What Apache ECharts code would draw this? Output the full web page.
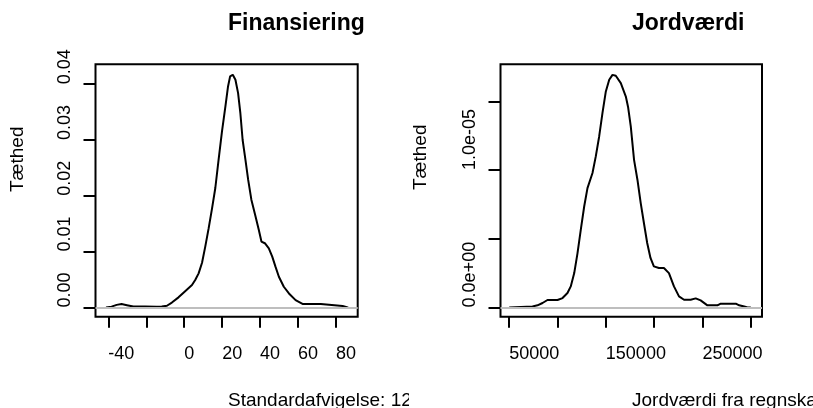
<!DOCTYPE html>
<html>
<head>
<meta charset="utf-8">
<script src="https://cdn.jsdelivr.net/npm/echarts@6/dist/echarts.min.js"></script>
<style>
html,body{margin:0;padding:0;background:#fff;}
#chart{width:813px;height:408px;}
</style>
</head>
<body>
<div id="chart"></div>
<script>
// ---- Data ----
var finTitle = 'Finansiering';
var jordTitle = 'Jordværdi';
var yName = 'Tæthed';
var finSub = 'Standardafvigelse: 12';
var jordSub = 'Jordværdi fra regnskab';

var finX = [-41.2,-40.9,-38.3,-35.6,-33.0,-30.2,-26.8,-20.6,-14.5,-11.8,-9.1,-6.5,-3.0,0.5,4.1,5.8,7.6,9.4,11.1,12.9,14.7,16.4,18.1,19.9,21.7,23.1,24.2,25.6,27.0,28.4,29.6,30.8,32.3,33.7,35.4,37.6,39.3,40.7,42.5,44.6,46.4,48.1,49.9,52.5,55.2,58.7,62.6,72.0,72.9,83.5,86.1,86.5];
var finY = [0,0,0.00014,0.00045,0.0006,0.0004,0.00015,0.00015,0.0001,0.00015,0.0003,0.00087,0.0018,0.0029,0.004,0.0049,0.0061,0.008,0.0109,0.0142,0.0178,0.0214,0.0264,0.0315,0.0360,0.0396,0.0414,0.0417,0.0408,0.0384,0.0348,0.0300,0.0264,0.0229,0.0193,0.0163,0.0139,0.0118,0.0115,0.0106,0.0091,0.0073,0.0055,0.0037,0.0025,0.0013,0.0006,0.0006,0.00027,0.00027,0,0];

var jordX = [50000,74100,79300,84500,89600,100000,105200,110300,113700,117300,120700,124100,127600,131000,136200,139600,143100,146500,150000,153500,156900,160300,165500,170700,173000,175800,179200,182700,186100,189400,192800,196200,199700,204900,210100,215300,220500,225700,230900,237800,243000,248100,255100,265500,268900,284500,288000,293200,296600,300000];
var jordY = [0,0.07e-6,0.15e-6,0.32e-6,0.54e-6,0.54e-6,0.68e-6,1.05e-6,1.53e-6,2.5e-6,3.96e-6,5.66e-6,7.35e-6,8.69e-6,9.79e-6,11.0e-6,12.45e-6,14.15e-6,15.73e-6,16.58e-6,16.94e-6,16.87e-6,16.34e-6,15.36e-6,14.6e-6,13.18e-6,10.75e-6,9.3e-6,7.6e-6,6.15e-6,4.69e-6,3.6e-6,2.99e-6,2.87e-6,2.87e-6,2.5e-6,1.53e-6,0.8e-6,0.56e-6,0.56e-6,0.66e-6,0.51e-6,0.15e-6,0.15e-6,0.27e-6,0.27e-6,0.15e-6,0.07e-6,0,0];

// Tick positions and tick labels
var finXTicks = [-40,-20,0,20,40,60,80];
var finXLabels = [-40,0,20,40,60,80];
var finYTicks = [0,0.01,0.02,0.03,0.04];
var finYLabelText = ['0.00','0.01','0.02','0.03','0.04'];
var jordXTicks = [50000,100000,150000,200000,250000,300000];
var jordXLabels = [50000,150000,250000];
var jordYTicks = [0,5e-6,1e-5,1.5e-5];
var jordYLabels = [0,1e-5];
var jordYLabelText = ['0.0e+00','1.0e-05'];

// ---- Chart ----
var FONT = '"Liberation Sans", Arial, Helvetica, sans-serif';
function zip(a,b){var r=[];for(var i=0;i<a.length;i++){r.push([a[i],b[i]]);}return r;}

var gridBase = {show:true,borderColor:'#000',borderWidth:2,backgroundColor:'transparent',containLabel:false};
function xAxisCfg(gi,min,max,ticks,labels){
  return {type:'value',gridIndex:gi,min:min,max:max,position:'bottom',
    axisLine:{show:false,onZero:false},splitLine:{show:false},
    axisTick:{show:true,inside:false,length:11,customValues:ticks,lineStyle:{color:'#000',width:2}},
    axisLabel:{show:true,customValues:labels,align:'left',verticalAlign:'middle',margin:37,
      fontSize:18,color:'#000',fontFamily:FONT,formatter:function(v){return String(v);}}
  };
}
function yAxisCfg(gi,min,max,ticks,labels,texts){
  return {type:'value',gridIndex:gi,min:min,max:max,position:'left',
    axisLine:{show:false,onZero:false},splitLine:{show:false},
    axisTick:{show:true,inside:false,length:12,customValues:ticks,lineStyle:{color:'#000',width:2}},
    axisLabel:{show:true,customValues:labels,rotate:90,align:'left',verticalAlign:'middle',margin:30,
      fontSize:18,color:'#000',fontFamily:FONT,
      formatter:function(v){
        for(var i=0;i<labels.length;i++){ if(Math.abs(labels[i]-v) <= Math.abs(labels[labels.length-1])*1e-6) return texts[i]; }
        return '';
      }}
  };
}
function curve(xi,data){
  return {type:'line',xAxisIndex:xi,yAxisIndex:xi,data:data,showSymbol:false,symbol:'none',
    lineStyle:{color:'#000',width:2},silent:true,animation:false,
    markLine:{silent:true,symbol:['none','none'],label:{show:false},animation:false,
      lineStyle:{color:'#bebebe',width:2,type:'solid'},data:[{yAxis:0}]}};
}

var chart = echarts.init(document.getElementById('chart'),null,{renderer:'canvas'});
chart.setOption({
  animation:false,
  backgroundColor:'#fff',
  grid:[
    Object.assign({left:95.5,top:64.3,width:262.2,height:252.4},gridBase),
    Object.assign({left:500.5,top:64.3,width:261.5,height:252.4},gridBase)
  ],
  xAxis:[
    xAxisCfg(0,-46.75,91.44,finXTicks,finXLabels),
    xAxisCfg(1,41000,311600,jordXTicks,jordXLabels)
  ],
  yAxis:[
    yAxisCfg(0,-0.001667,0.04357,finYTicks,finYTicks,finYLabelText),
    yAxisCfg(1,-6.77e-7,1.7708e-5,jordYTicks,jordYLabels,jordYLabelText)
  ],
  series:[curve(0,zip(finX,finY)),curve(1,zip(jordX,jordY))],
  graphic:[
    {type:'text',x:228,y:24,z:10,style:{text:finTitle,font:'bold 23px '+FONT,fill:'#000',align:'left',verticalAlign:'middle'}},
    {type:'text',x:632,y:24,z:10,style:{text:jordTitle,font:'bold 23px '+FONT,fill:'#000',align:'left',verticalAlign:'middle'}},
    {type:'text',x:18,y:192,rotation:Math.PI/2,z:10,style:{text:yName,font:'19px '+FONT,fill:'#000',align:'left',verticalAlign:'middle'}},
    {type:'text',x:421,y:190,rotation:Math.PI/2,z:10,style:{text:yName,font:'19px '+FONT,fill:'#000',align:'left',verticalAlign:'middle'}},
    {type:'text',x:228,y:400.5,z:10,style:{text:finSub,font:'19px '+FONT,fill:'#000',align:'left',verticalAlign:'middle'}},
    {type:'rect',shape:{x:409,y:384,width:404,height:24},z:11,style:{fill:'#fff'}},
    {type:'text',x:632,y:400.5,z:12,style:{text:jordSub,font:'19px '+FONT,fill:'#000',align:'left',verticalAlign:'middle'}}
  ]
});
</script>
</body>
</html>
